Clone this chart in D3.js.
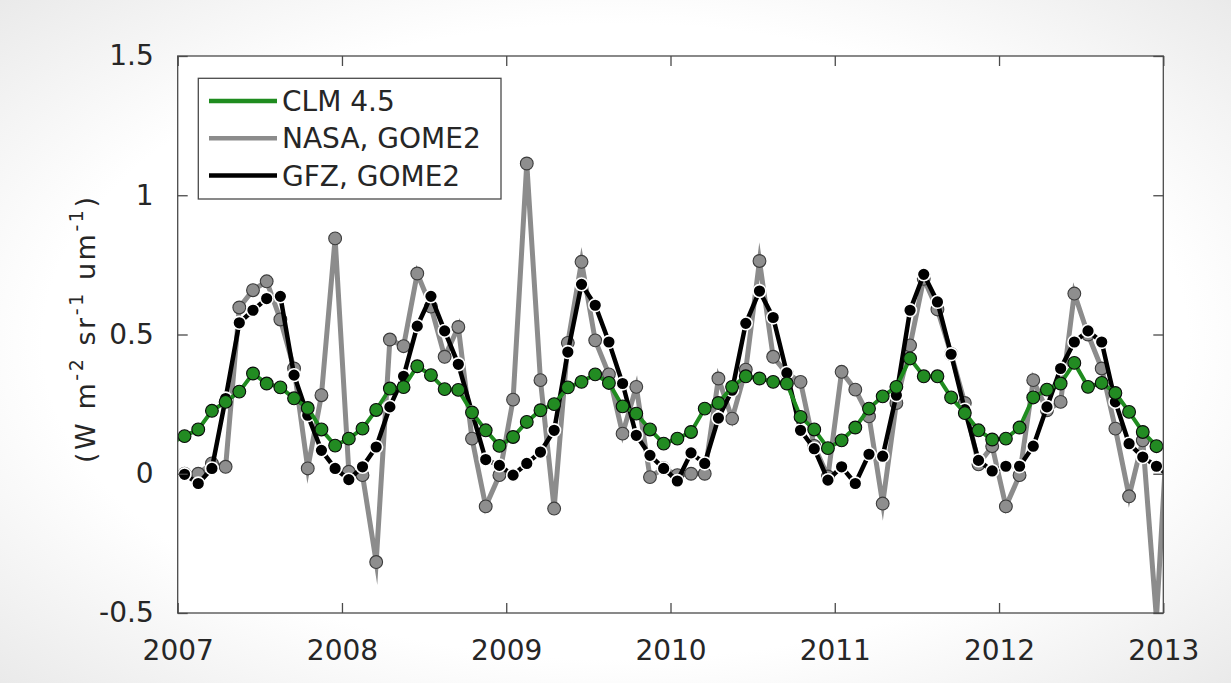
<!DOCTYPE html>
<html>
<head>
<meta charset="utf-8">
<script src="https://cdn.jsdelivr.net/npm/d3@7"></script>
<style>
  html, body { margin: 0; padding: 0; background: #fff; }
  svg { display: block; }
  text { font-family: "DejaVu Sans", sans-serif; fill: #262626; }
</style>
</head>
<body>
<svg id="chart" width="1231" height="683"></svg>
<script>
// ---------- data (monthly, Jan 2007 .. Dec 2012) ----------
const startYear = 2007;
const endYear = 2013;
const xTicks = [2007, 2008, 2009, 2010, 2011, 2012, 2013];
const yTicks = [-0.5, 0, 0.5, 1, 1.5];
const seriesNames = ["CLM 4.5", "NASA, GOME2", "GFZ, GOME2"];

const clm = [
  0.135,0.159,0.226,0.258,0.295,0.360,0.324,0.310,0.271,0.236,0.159,0.101,
  0.126,0.162,0.229,0.306,0.311,0.386,0.354,0.304,0.301,0.220,0.156,0.100,
  0.132,0.186,0.228,0.250,0.310,0.330,0.357,0.326,0.242,0.216,0.159,0.108,
  0.126,0.150,0.234,0.254,0.312,0.350,0.342,0.330,0.324,0.204,0.159,0.092,
  0.120,0.166,0.234,0.278,0.312,0.414,0.350,0.350,0.274,0.218,0.156,0.123,
  0.126,0.166,0.274,0.302,0.324,0.398,0.312,0.326,0.290,0.222,0.150,0.099
];
const clmBefore = 0.11;   // Dec 2006 (clipped by the axes)

const nasa = [
  0.000,0.000,0.037,0.025,0.597,0.659,0.691,0.554,0.378,0.019,0.282,0.845,
  0.007,-0.005,-0.317,0.482,0.458,0.719,0.600,0.420,0.527,0.126,-0.117,-0.005,
  0.266,1.114,0.336,-0.125,0.470,0.761,0.479,0.357,0.144,0.312,-0.012,0.020,
  -0.005,0.000,0.000,0.342,0.198,0.374,0.764,0.420,0.360,0.330,0.100,-0.010,
  0.366,0.302,0.206,-0.107,0.254,0.461,0.700,0.590,0.430,0.254,0.034,0.099,
  -0.117,-0.005,0.336,0.228,0.258,0.647,0.500,0.378,0.162,-0.081,0.120,-0.520
];
const nasaAfter = 0.34;   // Jan 2013 (clipped by the axes)

const gfz = [
  -0.002,-0.035,0.019,0.270,0.542,0.587,0.629,0.637,0.354,0.210,0.084,0.019,
  -0.021,0.025,0.096,0.240,0.350,0.530,0.637,0.513,0.393,0.220,0.051,0.030,
  -0.005,0.037,0.078,0.156,0.437,0.680,0.605,0.473,0.324,0.138,0.066,0.019,
  -0.026,0.075,0.037,0.200,0.300,0.540,0.656,0.561,0.362,0.156,0.090,-0.023,
  0.025,-0.035,0.070,0.063,0.282,0.587,0.716,0.617,0.429,0.230,0.048,0.010,
  0.027,0.027,0.099,0.240,0.378,0.473,0.513,0.473,0.258,0.108,0.060,0.027
];
const gfzAfter = -0.01;   // Jan 2013 (clipped by the axes)

// ---------- layout ----------
const W = 1231, H = 683;
const plot = { left: 177.7, right: 1163.3, top: 56, bottom: 613 };

const svg = d3.select("#chart");

// faint background vignette
const defs = svg.append("defs");
const rg = defs.append("radialGradient").attr("id", "bg").attr("cx", "50%").attr("cy", "50%").attr("r", "75%");
rg.append("stop").attr("offset", "0.62").attr("stop-color", "#ffffff");
rg.append("stop").attr("offset", "1").attr("stop-color", "#e6e6e6");
svg.append("rect").attr("width", W).attr("height", H).attr("fill", "url(#bg)");

defs.append("clipPath").attr("id", "clip")
  .append("rect")
  .attr("x", plot.left).attr("y", plot.top)
  .attr("width", plot.right - plot.left).attr("height", plot.bottom - plot.top);

const x = d3.scaleLinear().domain([startYear, endYear]).range([plot.left, plot.right]);
const y = d3.scaleLinear().domain([-0.5, 1.5]).range([plot.bottom, plot.top]);

// plot area
svg.append("rect")
  .attr("x", plot.left).attr("y", plot.top)
  .attr("width", plot.right - plot.left).attr("height", plot.bottom - plot.top)
  .attr("fill", "#fff");

// month-centred points
const toPts = (arr) => arr.map((v, i) => ({ t: startYear + (i + 0.5) / 12, v }));
const clmPts = [{ t: startYear - 0.5 / 12, v: clmBefore }].concat(toPts(clm));
const nasaPts = toPts(nasa).concat([{ t: endYear + 0.5 / 12, v: nasaAfter }]);
const gfzPts = toPts(gfz).concat([{ t: endYear + 0.5 / 12, v: gfzAfter }]);

const line = d3.line().x(d => x(d.t)).y(d => y(d.v));
const inside = d => d.t >= startYear && d.t <= endYear && d.v >= -0.5 && d.v <= 1.5;

const series = [
  { pts: nasaPts, line: "#8c8c8c", lw: 5, fill: "#8e8e8e", stroke: "#3c3c3c", sw: 1.1 },
  { pts: gfzPts,  line: "#000000", lw: 4.5, fill: "#000000", stroke: "#ffffff", sw: 1.6 },
  { pts: clmPts,  line: "#1f8c1f", lw: 4, fill: "#228b22", stroke: "#0a0a0a", sw: 1.1 }
];

const g = svg.append("g").attr("clip-path", "url(#clip)");
series.forEach(s => {
  g.append("path")
    .datum(s.pts)
    .attr("d", line)
    .attr("fill", "none")
    .attr("stroke", s.line)
    .attr("stroke-width", s.lw)
    .attr("stroke-linejoin", "miter")
    .attr("stroke-miterlimit", 10);
  g.selectAll(null)
    .data(s.pts.filter(inside))
    .enter().append("circle")
    .attr("cx", d => x(d.t))
    .attr("cy", d => y(d.v))
    .attr("r", 6.4)
    .attr("fill", s.fill)
    .attr("stroke", s.stroke)
    .attr("stroke-width", s.sw);
});

// ---------- axes (box with inner ticks) ----------
const axisColor = "#4a4a4a";
const tickLen = 10;
const ax = svg.append("g");

ax.append("rect")
  .attr("x", plot.left).attr("y", plot.top)
  .attr("width", plot.right - plot.left).attr("height", plot.bottom - plot.top)
  .attr("fill", "none").attr("stroke", axisColor).attr("stroke-width", 1.3);

// bottom axis via d3.axisBottom (inner ticks)
const xAxis = d3.axisBottom(x).tickValues(xTicks).tickFormat(d3.format("d"))
  .tickSizeInner(-tickLen).tickSizeOuter(0).tickPadding(tickLen + 17);
const gx = svg.append("g").attr("transform", `translate(0,${plot.bottom})`).call(xAxis);
gx.select(".domain").remove();
gx.selectAll(".tick line").attr("stroke", axisColor).attr("stroke-width", 1.3);
gx.selectAll(".tick text").attr("font-size", 28).attr("font-family", "DejaVu Sans").attr("fill", "#262626");

// top ticks
const xAxisTop = d3.axisTop(x).tickValues(xTicks).tickFormat("")
  .tickSizeInner(-tickLen).tickSizeOuter(0);
const gxt = svg.append("g").attr("transform", `translate(0,${plot.top})`).call(xAxisTop);
gxt.select(".domain").remove();
gxt.selectAll(".tick line").attr("stroke", axisColor).attr("stroke-width", 1.3);

// left axis
const yAxis = d3.axisLeft(y).tickValues(yTicks).tickFormat(d => String(d))
  .tickSizeInner(-tickLen).tickSizeOuter(0).tickPadding(tickLen + 14);
const gy = svg.append("g").attr("transform", `translate(${plot.left},0)`).call(yAxis);
gy.select(".domain").remove();
gy.selectAll(".tick line").attr("stroke", axisColor).attr("stroke-width", 1.3);
gy.selectAll(".tick text").attr("font-size", 28).attr("font-family", "DejaVu Sans").attr("fill", "#262626");

// right ticks
const yAxisR = d3.axisRight(y).tickValues(yTicks).tickFormat("")
  .tickSizeInner(-tickLen).tickSizeOuter(0);
const gyr = svg.append("g").attr("transform", `translate(${plot.right},0)`).call(yAxisR);
gyr.select(".domain").remove();
gyr.selectAll(".tick line").attr("stroke", axisColor).attr("stroke-width", 1.3);

// y-axis label with superscripts
const yl = svg.append("text")
  .attr("transform", "translate(95,330) rotate(-90)")
  .attr("text-anchor", "middle")
  .attr("font-size", 27)
  .attr("textLength", 266)
  .attr("lengthAdjust", "spacing");
const parts = [
  { t: "(W m", sup: false }, { t: "-2", sup: true },
  { t: " sr", sup: false }, { t: "-1", sup: true },
  { t: " um", sup: false }, { t: "-1", sup: true },
  { t: ")", sup: false }
];
let raised = false;
parts.forEach(p => {
  const ts = yl.append("tspan").text(p.t).attr("xml:space", "preserve");
  if (p.sup && !raised) { ts.attr("dy", -12).attr("font-size", 19); raised = true; }
  else if (!p.sup && raised) { ts.attr("dy", 12); raised = false; }
  else if (p.sup) ts.attr("font-size", 19);
});

// ---------- legend ----------
const lg = svg.append("g");
lg.append("rect")
  .attr("x", 198.3).attr("y", 78.3).attr("width", 302.7).attr("height", 120.7)
  .attr("fill", "#fff").attr("stroke", axisColor).attr("stroke-width", 1.3);
const legendItems = [
  { name: seriesNames[0], color: "#1f8c1f" },
  { name: seriesNames[1], color: "#8c8c8c" },
  { name: seriesNames[2], color: "#000000" }
];
const ly = d3.scalePoint().domain(legendItems.map(d => d.name)).range([101, 175.5]);
legendItems.forEach(d => {
  lg.append("line")
    .attr("x1", 209).attr("x2", 277)
    .attr("y1", ly(d.name)).attr("y2", ly(d.name))
    .attr("stroke", d.color).attr("stroke-width", 4.5);
  lg.append("text")
    .attr("x", 282).attr("y", ly(d.name) + 10)
    .attr("font-size", 28)
    .text(d.name);
});
</script>
</body>
</html>
